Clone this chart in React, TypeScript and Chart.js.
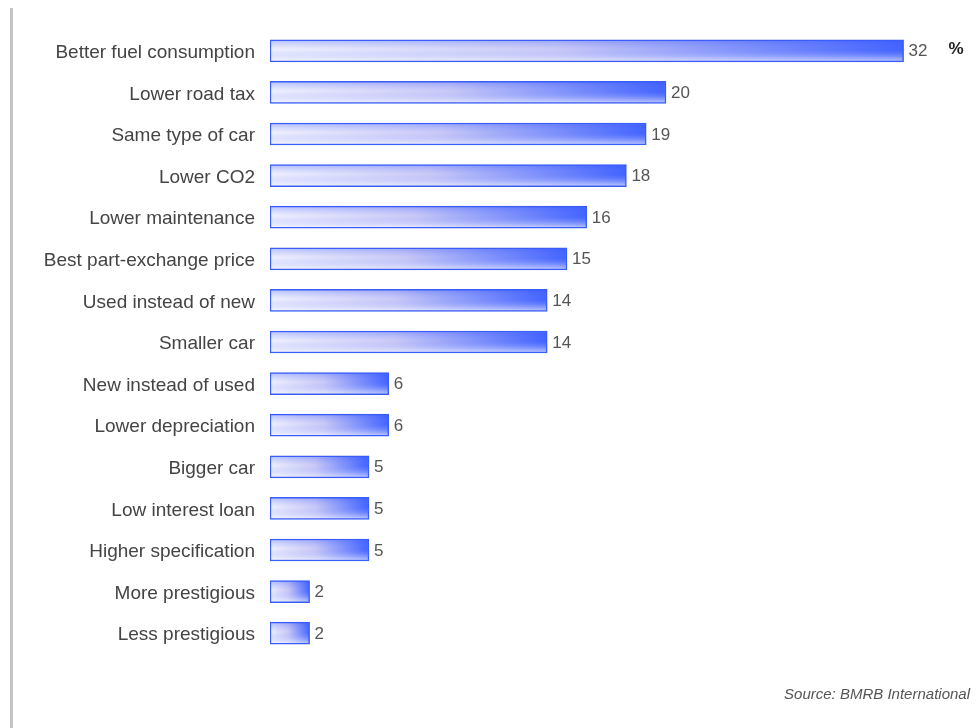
import React, { useEffect, useRef } from "react";
import { Chart, registerables } from "chart.js";

Chart.register(...registerables);

const categories = [
  "Better fuel consumption",
  "Lower road tax",
  "Same type of car",
  "Lower CO2",
  "Lower maintenance",
  "Best part-exchange price",
  "Used instead of new",
  "Smaller car",
  "New instead of used",
  "Lower depreciation",
  "Bigger car",
  "Low interest loan",
  "Higher specification",
  "More prestigious",
  "Less prestigious",
];
const values = [32, 20, 19, 18, 16, 15, 14, 14, 6, 6, 5, 5, 5, 2, 2];
const unitLabel = "%";
const sourceText = "Source: BMRB International";

const FONT = "'Liberation Sans', Arial, Helvetica, sans-serif";
const BAR_H = 22;

function makePattern(ctx: CanvasRenderingContext2D, x0: number, x1: number, yc: number) {
  const w = Math.max(2, Math.round(x1 - x0));
  const h = BAR_H;
  const off = document.createElement("canvas");
  off.width = w;
  off.height = h;
  const o = off.getContext("2d")!;
  const hg = o.createLinearGradient(0, 0, w, 0);
  hg.addColorStop(0, "#f6f6fe");
  hg.addColorStop(0.45, "#cfcdf6");
  hg.addColorStop(1, "#3e60ff");
  o.fillStyle = hg;
  o.fillRect(0, 0, w, h);
  const vg = o.createLinearGradient(0, 0, 0, h);
  vg.addColorStop(0, "rgba(50,85,255,0.35)");
  vg.addColorStop(0.45, "rgba(120,140,255,0.05)");
  vg.addColorStop(1, "rgba(255,255,255,0.7)");
  o.fillStyle = vg;
  o.fillRect(0, 0, w, h);
  const p = ctx.createPattern(off, "no-repeat")!;
  p.setTransform(new DOMMatrix().translateSelf(x0, yc - h / 2));
  return p;
}

export default function App() {
  const ref = useRef<HTMLCanvasElement | null>(null);
  useEffect(() => {
    const canvas = ref.current!;
    const labelPlugin = {
      id: "valueLabels",
      afterDatasetsDraw(chart: any) {
        const ctx = chart.ctx;
        const meta = chart.getDatasetMeta(0);
        ctx.save();
        ctx.font = `17px ${FONT}`;
        ctx.fillStyle = "#555555";
        ctx.textAlign = "left";
        ctx.textBaseline = "middle";
        meta.data.forEach((el: any, i: number) => {
          ctx.fillText(String(values[i]), el.x + 5, el.y + 1);
        });
        const first = meta.data[0];
        ctx.font = `bold 17px ${FONT}`;
        ctx.fillStyle = "#222222";
        ctx.fillText(unitLabel, first.x + 45, first.y - 1);
        ctx.font = `italic 15px ${FONT}`;
        ctx.fillStyle = "#555555";
        ctx.textAlign = "right";
        ctx.fillText(sourceText, 970, 695);
        ctx.fillStyle = "#c4c4c4";
        ctx.fillRect(10, 8, 3, 720);
        ctx.restore();
      },
    };
    const chart = new Chart(canvas, {
      type: "bar",
      data: {
        labels: categories,
        datasets: [
          {
            data: values,
            backgroundColor: (c: any) => {
              const ch = c.chart;
              const xs = ch.scales.x;
              const ys = ch.scales.y;
              if (!xs || !ys || typeof c.dataIndex !== "number") return "#8090ff";
              const x0 = xs.getPixelForValue(0);
              const x1 = xs.getPixelForValue(values[c.dataIndex]);
              const yc = ys.getPixelForValue(c.dataIndex);
              if (![x0, x1, yc].every((v) => Number.isFinite(v))) return "#8090ff";
              return makePattern(ch.ctx, x0, x1, yc);
            },
            borderColor: "#3a5cf8",
            borderWidth: 1.5,
            borderSkipped: false,
            barThickness: BAR_H,
          },
        ],
      },
      options: {
        indexAxis: "y",
        animation: false,
        responsive: false,
        maintainAspectRatio: false,
        layout: { padding: { top: 30, bottom: 74, right: 17, left: 0 } },
        plugins: { legend: { display: false }, tooltip: { enabled: false } },
        scales: {
          x: { display: false, min: 0, max: 35 },
          y: {
            grid: { display: false },
            border: { display: false },
            ticks: {
              padding: 7,
              labelOffset: 2,
              color: "#444444",
              font: { family: FONT, size: 19 },
            },
            afterFit: (s: any) => {
              s.width = 270;
            },
          },
        },
      },
      plugins: [labelPlugin],
    } as any);
    return () => chart.destroy();
  }, []);
  return (
    <div style={{ position: "fixed", left: 0, top: 0, width: 980, height: 728, background: "#fff" }}>
      <canvas ref={ref} width={980} height={728} style={{ display: "block" }} />
    </div>
  );
}
